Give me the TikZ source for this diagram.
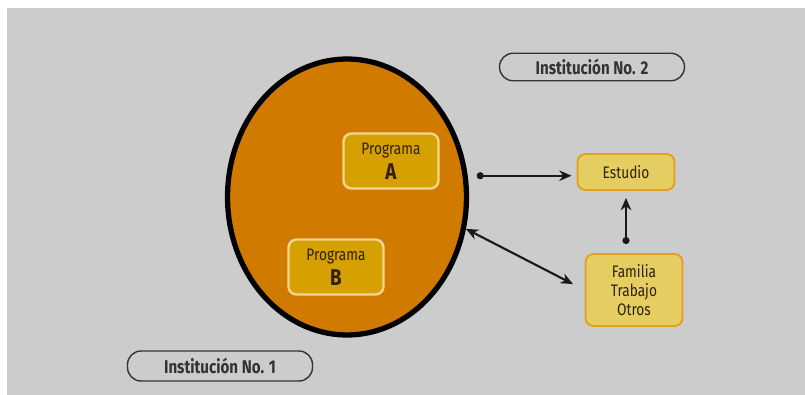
\documentclass[tikz,border=0pt]{standalone}
\usepackage{fontspec}
\setmainfont{Fira Sans}[FakeStretch=0.82]
\usetikzlibrary{shapes.geometric,arrows.meta}
\definecolor{fondo}{HTML}{CCCCCC}
\definecolor{naranja}{HTML}{D07A00}
\definecolor{dorado}{HTML}{D6A000}
\definecolor{crema}{HTML}{F2D690}
\definecolor{amarillo}{HTML}{E6CD62}
\definecolor{borde}{HTML}{E49E22}
\definecolor{texto}{HTML}{2E200C}
\begin{document}
\begin{tikzpicture}[x=0.02cm,y=-0.02cm,
    programa/.style={draw=crema,line width=1.4pt,fill=dorado,rounded corners=0.16cm,
        minimum width=1.9cm,minimum height=1.1cm,align=center,text=texto,
        font=\fontsize{9.5}{13}\selectfont},
    caja/.style={draw=borde,line width=1.1pt,fill=amarillo,rounded corners=0.16cm,
        minimum width=1.94cm,align=center,text=texto,
        font=\fontsize{9.5}{11}\selectfont},
    inst/.style={draw=black!80,line width=0.8pt,fill=fondo,rounded corners=0.27cm,
        minimum width=3.7cm,minimum height=0.55cm,text=black!80,
        font=\bfseries\fontsize{10.5}{12}\selectfont},
    flecha/.style={line width=1.2pt,black!90}]
    \useasboundingbox (0,0) rectangle (805,395);
    \fill[fondo] (7,8) rectangle (805,395);
    \node[shape=ellipse,draw=black,line width=3pt,fill=naranja,inner sep=0pt,
        minimum width=4.78cm,minimum height=5.52cm] (inst1) at (347,197) {};
    \node[programa] (A) at (391,161) {Programa\\[1.5pt]{\bfseries\fontsize{13}{13}\selectfont A}};
    \node[programa] (B) at (336,267) {Programa\\[1.5pt]{\bfseries\fontsize{13}{13}\selectfont B}};
    \node[caja,minimum height=0.72cm] (E) at (626,172) {Estudio};
    \node[caja,minimum height=1.44cm] (F) at (634,290) {Familia\\Trabajo\\Otros};
    \node[inst] (I2) at (592,67) {Institución No. 2};
    \node[inst,minimum height=0.6cm] (I1) at (220,366) {Institución No. 1};
    \draw[flecha,{Circle[length=4pt]}-{Stealth[length=7pt,width=6pt]},shorten <=0.18cm,shorten >=0.1cm] (inst1.10) -- (inst1.10 -| E.west);
    \draw[flecha,{Stealth[length=7pt,width=6pt]}-{Stealth[length=7pt,width=6pt]},shorten >=0.26cm] (inst1.-15) -- (F.west);
    \draw[flecha,{Circle[length=4pt]}-{Stealth[length=7pt,width=6pt]},shorten <=0.18cm,shorten >=0.14cm] (E.south |- F.north) -- (E.south);
\end{tikzpicture}
\end{document}
